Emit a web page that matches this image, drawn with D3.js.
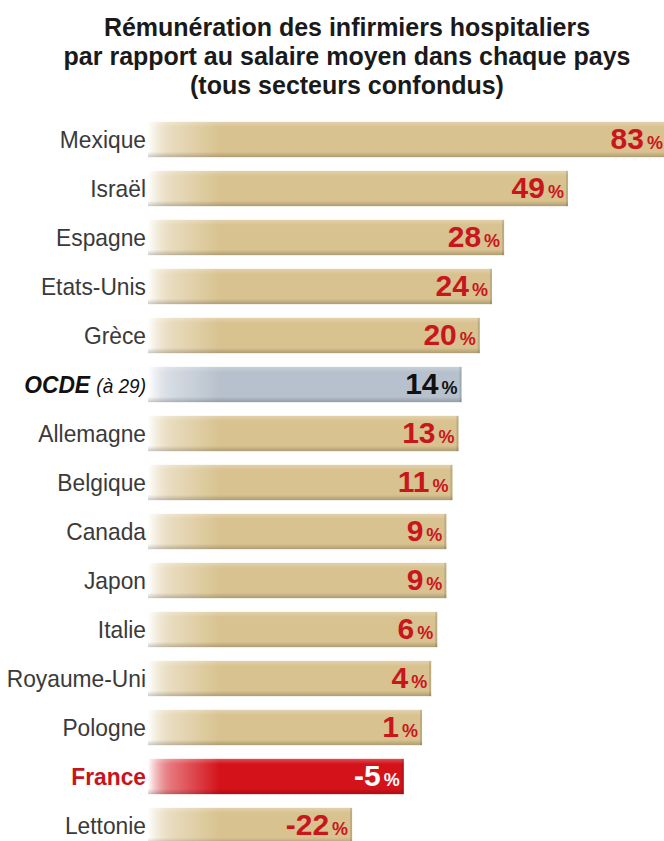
<!DOCTYPE html>
<html>
<head>
<meta charset="utf-8">
<script src="https://cdn.jsdelivr.net/npm/d3@7"></script>
<style>
  body { margin: 0; background: #fff; }
  svg { display: block; }
</style>
</head>
<body>
<div id="chart"></div>
<script>
// data
const countries = ["Mexique", "Israël", "Espagne", "Etats-Unis", "Grèce", "OCDE (à 29)",
    "Allemagne", "Belgique", "Canada", "Japon", "Italie", "Royaume-Uni", "Pologne", "France", "Lettonie"];
const values = [83, 49, 28, 24, 20, 14, 13, 11, 9, 9, 6, 4, 1, -5, -22];
const titleLines = [
    "Rémunération des infirmiers hospitaliers",
    "par rapport au salaire moyen dans chaque pays",
    "(tous secteurs confondus)"
];

const width = 664, height = 841;
const font = "'Liberation Sans', Arial, sans-serif";

const rows = countries.map((c, i) => ({country: c, value: values[i]}));

let svg = d3.select("#chart")
    .append("svg")
    .attr("width", width)
    .attr("height", height);

// gradients
let defs = svg.append("defs");
function hGrad(id, color) {
    let g = defs.append("linearGradient")
        .attr("id", id)
        .attr("gradientUnits", "userSpaceOnUse")
        .attr("x1", 148).attr("x2", 220).attr("y1", 0).attr("y2", 0);
    g.append("stop").attr("offset", 0).attr("stop-color", "#fff");
    g.append("stop").attr("offset", 0.35).attr("stop-color", color).attr("stop-opacity", 0.6);
    g.append("stop").attr("offset", 1).attr("stop-color", color);
}
hGrad("gTan", "#d8c28f");
hGrad("gGrey", "#b7c1cd");
hGrad("gRed", "#d3121a");

let shade = defs.append("linearGradient")
    .attr("id", "shade")
    .attr("x1", 0).attr("x2", 0).attr("y1", 0).attr("y2", 1);
shade.append("stop").attr("offset", 0).attr("stop-color", "#fff").attr("stop-opacity", 0.25);
shade.append("stop").attr("offset", 0.15).attr("stop-color", "#fff").attr("stop-opacity", 0);
shade.append("stop").attr("offset", 0.85).attr("stop-color", "#000").attr("stop-opacity", 0);
shade.append("stop").attr("offset", 1).attr("stop-color", "#000").attr("stop-opacity", 0.2);

// title
svg.append("g")
    .selectAll("text")
    .data(titleLines)
    .enter().append("text")
    .attr("x", 347)
    .attr("y", (d, i) => 36 + i * 29)
    .attr("text-anchor", "middle")
    .attr("font-family", font)
    .attr("font-weight", "bold")
    .attr("font-size", 25)
    .attr("fill", "#1a1a1a")
    .text(d => d);

// scales
let y = d3.scaleBand()
    .domain(countries)
    .range([115, 115 + 49 * countries.length])
    .paddingInner(0.28)
    .paddingOuter(0.14);

// bar length follows the ratio (100 + value)
let x = d3.scaleLinear()
    .domain([0, 100])
    .range([115, 419]);

const barStart = 148;

function fillFor(d) {
    if (d.country === "France") return "url(#gRed)";
    if (d.country.startsWith("OCDE")) return "url(#gGrey)";
    return "url(#gTan)";
}

let row = svg.append("g")
    .selectAll("g")
    .data(rows)
    .enter().append("g")
    .attr("transform", d => `translate(0,${y(d.country)})`);

row.append("rect")
    .attr("x", barStart)
    .attr("width", d => x(100 + d.value) - barStart)
    .attr("height", y.bandwidth())
    .attr("fill", fillFor);

row.append("rect")
    .attr("x", barStart)
    .attr("width", d => x(100 + d.value) - barStart)
    .attr("height", y.bandwidth())
    .attr("fill", "url(#shade)");

// right edge of the bar, a bit darker
row.append("rect")
    .attr("x", d => x(100 + d.value) - 2)
    .attr("width", 2)
    .attr("height", y.bandwidth())
    .attr("fill", "#000")
    .attr("opacity", 0.12);

// country labels, slightly condensed
let lab = row.append("text")
    .attr("transform", `translate(146,${y.bandwidth() / 2 + 8}) scale(0.95,1)`)
    .attr("text-anchor", "end")
    .attr("font-family", font)
    .attr("font-size", 24)
    .attr("fill", d => d.country === "France" ? "#c8141c" : "#3a3a3a")
    .attr("font-weight", d => d.country === "France" ? "bold" : "normal");

lab.filter(d => !d.country.startsWith("OCDE")).text(d => d.country);
let oc = lab.filter(d => d.country.startsWith("OCDE"))
    .attr("font-style", "italic")
    .attr("fill", "#111");
oc.append("tspan").attr("font-weight", "bold").text("OCDE ");
oc.append("tspan").attr("font-size", 20).text("(à 29)");

// value labels
let val = row.append("text")
    .attr("x", d => Math.min(x(100 + d.value) - 4, width - 1))
    .attr("y", y.bandwidth() / 2 + 10)
    .attr("text-anchor", "end")
    .attr("font-family", font)
    .attr("font-weight", "bold")
    .attr("fill", d => d.country === "France" ? "#fff" : d.country.startsWith("OCDE") ? "#111" : "#c8161d");

val.append("tspan")
    .attr("font-size", 30)
    .text(d => d.value < 0 ? "-" + Math.abs(d.value) : d.value);
val.append("tspan")
    .attr("font-size", 18)
    .attr("dx", 3)
    .text("%");
</script>
</body>
</html>
